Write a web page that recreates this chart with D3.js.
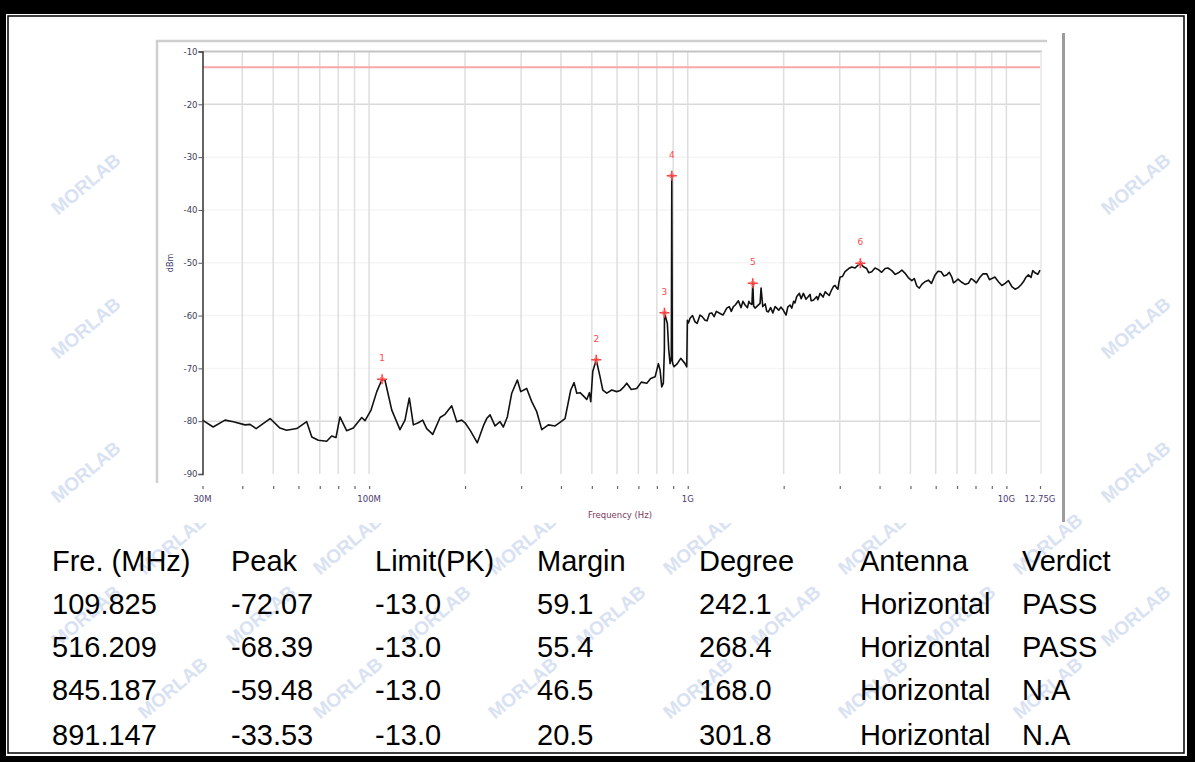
<!DOCTYPE html>
<html><head><meta charset="utf-8">
<script src="https://cdn.jsdelivr.net/npm/d3@7"></script>
<style>body{margin:0;background:#fff} svg{display:block}</style>
</head><body><svg id="c" width="1195" height="762"></svg>
<script>
// ---------------- DATA ----------------
const traceFreqMHz = [30,32.4,35.3,37.5,40.8,42.3,44.2,48.9,52.5,55.1,59.3,63.7,66.1,69.3,73.6,76.3,78.7,81.0,85.0,89.2,92.5,94.8,97.1,101.4,105.7,109.825,112.2,117.8,125.0,129.6,133.7,137.7,142.7,147.3,151.6,158.4,167.0,173.1,177.3,181.7,188.4,195.3,200.0,207.4,218.6,228.3,233.9,239.6,248.4,257.6,263.8,271.5,280.3,291.9,299.1,312.3,323.9,335.8,348.2,365.2,383.4,395.4,412.0,429.3,439.8,448.5,459.3,470.3,482.1,491.2,496.2,503.3,516.209,530.7,541.2,557.1,577.5,598.7,613.3,628,643.6,665,691.7,715,743.8,765,789.9,808.9,818.8,828.8,838.4,844.6,845.187,863.0,871.8,880.1,888.0,891.147,894.5,897.3,905.8,927.5,950.6,980.8,993.0,997.3,1005,1016.8,1035,1054.1,1070,1092.9,1110,1133,1150,1170,1189.3,1210,1230,1263.3,1290,1325.9,1350,1370,1390.6,1410,1441.8,1470,1490,1513.4,1540,1555,1569.2,1590,1600,1610,1626.9,1686.6,1698.7,1719.7,1750,1770,1791,1820,1850,1880,1902.8,1930,1960,1995.9,2035.4,2060,2094.7,2120,2150,2170,2198.4,2240,2270,2306.3,2350,2391.1,2420,2440,2478.7,2540,2560,2602.2,2660,2700,2731.5,2780,2820,2864.5,2900,2935.7,2960,2980,3006.3,3060,3116.4,3200,3271.8,3350,3432.2,3481,3550,3645,3700,3780,3870,3966,4060,4164,4250,4369,4480,4584,4700,4810,4920,5049,5140,5235,5330,5428,5550,5693,5820,5975,6100,6238,6370,6502,6620,6741,6820,6904,7050,7246,7420,7600,7750,7879,8050,8269,8450,8680,8850,9000,9200,9441,9680,9909,10150,10401,10650,10908,11100,11310,11500,11727,11950,12100,12309,12550,12750];
const traceLevelDbm = [-79.8,-81.1,-79.8,-80.1,-80.7,-80.6,-81.4,-79.5,-81.3,-81.7,-81.4,-80.1,-83.0,-83.6,-83.8,-82.8,-83.1,-79.2,-81.8,-81.3,-80.1,-79.3,-79.9,-77.9,-74.4,-72.07,-72.3,-77.9,-81.6,-79.8,-75.6,-80.7,-80.3,-79.8,-81.4,-82.5,-79.3,-78.7,-77.9,-77.1,-80.1,-79.8,-80.3,-81.7,-84.1,-80.9,-79.5,-78.8,-80.9,-80.1,-81.1,-79.2,-74.7,-72.2,-74.4,-73.8,-76.3,-78.2,-81.6,-80.7,-80.9,-80.3,-79.5,-74.1,-72.7,-74.7,-74.6,-75.2,-75.9,-74.6,-76.3,-70.6,-68.39,-71.6,-74.1,-74.7,-74.1,-74.4,-74.2,-73.6,-72.8,-74.0,-73.8,-72.6,-72.8,-71.9,-71.6,-69.1,-70.3,-73.5,-72.8,-66.5,-59.48,-61.5,-66.5,-69.1,-68.0,-33.53,-68.5,-69.1,-69.7,-69.1,-68.1,-69.1,-69.7,-60.9,-61.4,-60.5,-60.0,-61.2,-61.5,-59.9,-60.2,-60.9,-61.0,-59.6,-59.5,-60.2,-59.2,-59.6,-59.9,-58.6,-58.3,-59.2,-58.3,-58.0,-57.2,-58.5,-57.3,-58.0,-58.5,-57.3,-57.7,-57.9,-53.9,-58.2,-58.6,-57.7,-54.8,-58.3,-57.8,-59.2,-59.3,-58.5,-59.5,-58.3,-58.6,-59.0,-58.4,-59.0,-59.9,-58.4,-58.0,-58.6,-57.3,-57.6,-56.4,-55.8,-56.8,-55.8,-56.9,-56.4,-56.0,-57.2,-57.1,-56.4,-57.0,-55.8,-56.5,-55.5,-55.8,-56.2,-55.3,-54.5,-54.3,-54.8,-55.0,-53.8,-52.7,-52.6,-51.7,-51.1,-50.8,-51.0,-50.4,-50.1,-50.7,-51.1,-51.9,-51.7,-51.0,-51.3,-51.8,-51.1,-51.0,-51.5,-52.2,-51.9,-51.4,-52.0,-52.8,-53.4,-53.0,-54.4,-54.8,-54.1,-53.6,-53.3,-53.9,-52.3,-51.6,-51.7,-52.5,-52.3,-51.8,-52.7,-53.8,-53.6,-53.1,-53.7,-54.1,-53.9,-53.0,-53.3,-53.8,-52.7,-52.1,-52.1,-53.2,-53.0,-52.7,-53.6,-54.3,-53.9,-53.4,-54.5,-55.0,-54.7,-54.2,-53.6,-52.8,-52.3,-52.8,-51.5,-51.9,-52.2,-51.4];

const markerNo = ["1","2","3","4","5","6"];
const markerFreqMHz = [109.825, 516.209, 845.187, 891.147, 1600, 3481];
const markerLevelDbm = [-72.07, -68.39, -59.48, -33.53, -53.9, -50.1];
const limitDbm = -13;

const yTickValues = [-10,-20,-30,-40,-50,-60,-70,-80,-90];
const yStrongGrid = [-20,-80];
const xGridMHz = [40,50,60,70,80,90,100,200,300,400,500,600,700,800,900,1000,2000,3000,4000,5000,6000,7000,8000,9000,10000];
const xLabelMHz = [30,100,1000,10000,12750];
const xLabelText = ["30M","100M","1G","10G","12.75G"];
const yAxisTitle = "dBm";
const xAxisTitle = "Frequency (Hz)";

const tableHeader = ["Fre. (MHz)","Peak","Limit(PK)","Margin","Degree","Antenna","Verdict"];
const tableFreq = ["109.825","516.209","845.187","891.147"];
const tablePeak = ["-72.07","-68.39","-59.48","-33.53"];
const tableLimit = ["-13.0","-13.0","-13.0","-13.0"];
const tableMargin = ["59.1","55.4","46.5","20.5"];
const tableDegree = ["242.1","268.4","168.0","301.8"];
const tableAntenna = ["Horizontal","Horizontal","Horizontal","Horizontal"];
const tableVerdict = ["PASS","PASS","N.A","N.A"];
const watermarkText = "MORLAB";

// ---------------- DRAW ----------------
const svg = d3.select("#c");
const W = 1195, H = 762;

// outer frame
svg.append("rect").attr("width",W).attr("height",H).attr("fill","#000");
svg.append("rect").attr("x",6).attr("y",14).attr("width",1181).attr("height",742).attr("fill","#fff");
svg.append("rect").attr("x",8).attr("y",16).attr("width",1176).attr("height",737)
  .attr("fill","none").attr("stroke","#000").attr("stroke-width",1.5);

// watermark layer: copies fully inside the frame, centres outside the chart panel
const panel = {x0:157, y0:30, x1:1065, y1:523};
const wm = svg.append("g");
for (let j = 0; j < 12; j++) {
  for (let i = -1; i < 8; i++) {
    const cx = 90 + (j % 2) * 87 + i * 175;
    const cy = 45 + j * 72;
    const bx0 = cx - 40, bx1 = cx + 40, by0 = cy - 36, by1 = cy + 26;
    if (bx0 < 12 || bx1 > 1181 || by0 < 20 || by1 > 750) continue;
    if (cx > panel.x0 - 15 && cx < panel.x1 && cy > panel.y0 && cy < panel.y1 + 20) continue;
    wm.append("text").attr("x",cx).attr("y",cy)
      .attr("transform",`rotate(-40,${cx},${cy})`)
      .attr("text-anchor","middle")
      .style("font-family","Liberation Sans, Arial, sans-serif")
      .style("font-weight","bold").style("font-size","19px")
      .attr("fill","#d9e2f2").text(watermarkText);
  }
}

// chart image panel
svg.append("rect").attr("x",157).attr("y",30).attr("width",906).attr("height",493).attr("fill","#fff");
svg.append("path").attr("d","M157,483 L157,41 L1047,41").attr("fill","none")
  .attr("stroke","#cfcfcf").attr("stroke-width",2.5);
svg.append("line").attr("x1",1063.5).attr("x2",1063.5).attr("y1",33).attr("y2",522)
  .attr("stroke","#9c9c9c").attr("stroke-width",3);

const x = d3.scaleLog().domain([30, 12750]).range([202.5, 1040]);
const y = d3.scaleLinear().domain([-90, -10]).range([474, 51.5]);

const g = svg.append("g");
// horizontal grid
g.selectAll(".hg").data(yTickValues.filter(v => v > -90 && v < -10)).enter().append("line")
  .attr("x1",x(30)).attr("x2",x(12750)).attr("y1",d=>y(d)).attr("y2",d=>y(d))
  .attr("stroke",d => yStrongGrid.includes(d) ? "#d9d9d9" : "#f5f5f5").attr("stroke-width",1.5);
// vertical grid
g.selectAll(".vg").data(xGridMHz).enter().append("line")
  .attr("x1",d=>x(d)).attr("x2",d=>x(d)).attr("y1",y(-10)).attr("y2",y(-90))
  .attr("stroke","#dedede").attr("stroke-width",1.5);
// plot frame top/right
g.append("line").attr("x1",x(30)).attr("x2",x(12750)+2).attr("y1",y(-10)).attr("y2",y(-10))
  .attr("stroke","#c4c4c4").attr("stroke-width",2);
g.append("line").attr("x1",x(12750)+1).attr("x2",x(12750)+1).attr("y1",y(-10)).attr("y2",y(-90))
  .attr("stroke","#e6e6e6").attr("stroke-width",1.5);

// limit line
g.append("line").attr("x1",x(30)).attr("x2",x(12750)).attr("y1",y(limitDbm)).attr("y2",y(limitDbm))
  .attr("stroke","#f6a9a9").attr("stroke-width",2);

// y axis
const yAxis = d3.axisLeft(y).tickValues(yTickValues).tickSize(4).tickPadding(1).tickFormat(d => String(d));
const ya = svg.append("g").attr("transform",`translate(${x(30)},0)`).call(yAxis);
ya.select(".domain").attr("stroke","#333").attr("stroke-width",1.5);
ya.selectAll(".tick line").attr("stroke","#555");
ya.selectAll("text").attr("fill","#3d3d55").style("font-family","DejaVu Sans, sans-serif").style("font-size","8.5px");

// x axis ticks (below plot)
const xAxis = d3.axisBottom(x).tickValues(xGridMHz.concat([30,12750])).tickSize(3).tickFormat(() => "");
const xa = svg.append("g").attr("transform","translate(0,486)").call(xAxis);
xa.select(".domain").remove();
xa.selectAll(".tick line").attr("stroke","#666").attr("stroke-width",1.2);
svg.selectAll(".xl").data(xLabelMHz).enter().append("text")
  .attr("x",d=>x(d)).attr("y",502).attr("text-anchor","middle")
  .style("font-family","DejaVu Sans, sans-serif").style("font-size","8.5px")
  .attr("fill","#4a3a6e").text((d,i)=>xLabelText[i]);

svg.append("text").attr("x",620).attr("y",518).attr("text-anchor","middle")
  .style("font-family","DejaVu Sans, sans-serif").style("font-size","8.5px")
  .attr("fill","#7a3a5c").text(xAxisTitle);
svg.append("text").attr("transform","translate(173,263) rotate(-90)").attr("text-anchor","middle")
  .style("font-family","DejaVu Sans, sans-serif").style("font-size","8px")
  .attr("fill","#3d3d6e").text(yAxisTitle);

// trace
const pts = traceFreqMHz.map((f,i)=>[f, traceLevelDbm[i]]).sort((a,b)=>a[0]-b[0]);
const line = d3.line().x(d=>x(d[0])).y(d=>y(d[1]));
g.append("path").datum(pts).attr("d",line).attr("fill","none")
  .attr("stroke","#111").attr("stroke-width",1.6).attr("stroke-linejoin","round");

// markers
const mk = g.selectAll(".mk").data(markerFreqMHz).enter().append("g")
  .attr("transform",(d,i)=>`translate(${x(d)},${y(markerLevelDbm[i])})`);
mk.append("path").attr("d","M-5,0 L5,0 M0,-5 L0,5").attr("stroke","#ff3b3b").attr("stroke-width",1.5);
mk.append("circle").attr("r",2.2).attr("fill","none").attr("stroke","#ff6b6b").attr("stroke-width",1);
mk.append("text").attr("y",-18).attr("text-anchor","middle")
  .style("font-family","DejaVu Sans, sans-serif").style("font-size","9px")
  .attr("fill","#ff4a4a").text((d,i)=>markerNo[i]);

// table
const colX = [52,231,375,537,699,860,1022];
const rowY = [571,614,657,700,745];
const cols = [tableFreq,tablePeak,tableLimit,tableMargin,tableDegree,tableAntenna,tableVerdict];
const tg = svg.append("g").style("font-family","Liberation Sans, Arial, sans-serif").style("font-size","29px").attr("fill","#000");
tableHeader.forEach((h,c)=>{
  tg.append("text").attr("x",colX[c]).attr("y",rowY[0]).text(h);
  cols[c].forEach((v,r)=>{
    tg.append("text").attr("x",colX[c]).attr("y",rowY[r+1]).text(v);
  });
});
</script></body></html>
